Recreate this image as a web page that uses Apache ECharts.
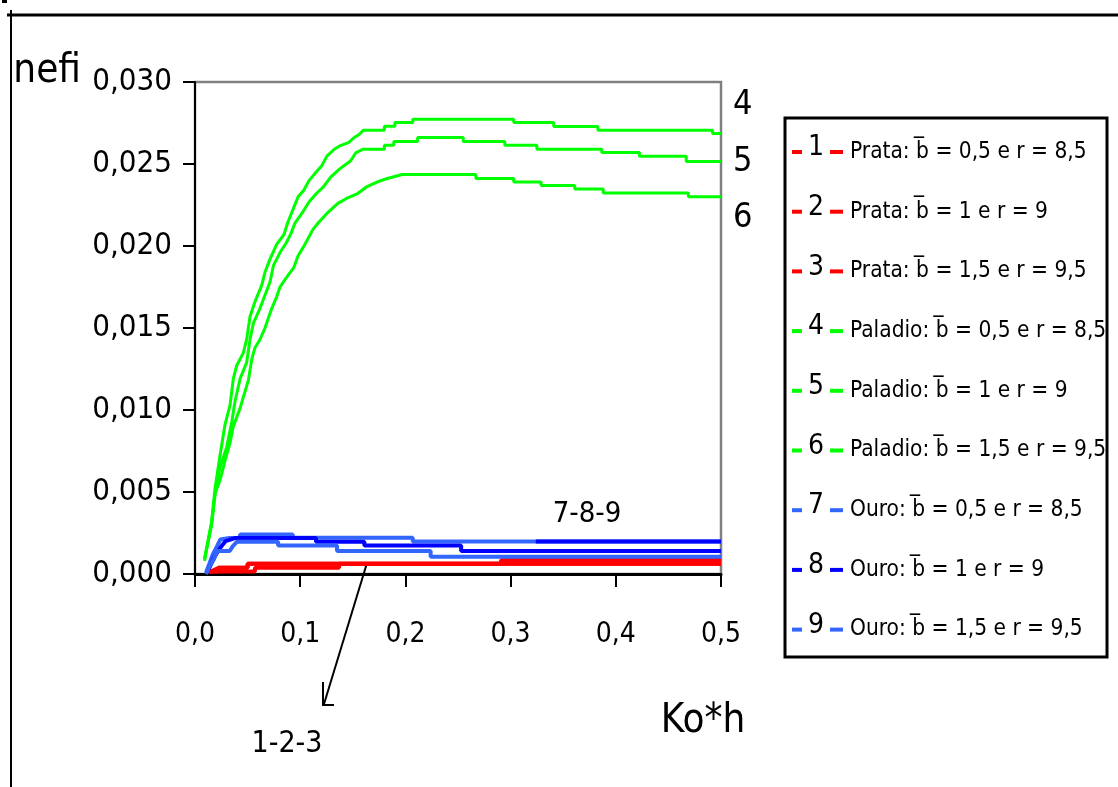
<!DOCTYPE html>
<html>
<head>
<meta charset="utf-8">
<script src="https://cdn.jsdelivr.net/npm/echarts@6/dist/echarts.min.js"></script>
<style>html,body{margin:0;padding:0;background:#fff;}#c{width:1118px;height:787px;}</style>
</head>
<body>
<div id="c"></div>
<script>
// ---- data ----
const xTicks = [0, 0.1, 0.2, 0.3, 0.4, 0.5];
const yTicks = [0, 0.005, 0.010, 0.015, 0.020, 0.025, 0.030];
const seriesNumbers = ['1','2','3','4','5','6','7','8','9'];
const seriesNames = [
  'Prata: b\u0305 = 0,5 e r = 8,5',
  'Prata: b\u0305 = 1 e r = 9',
  'Prata: b\u0305 = 1,5 e r = 9,5',
  'Paladio: b\u0305 = 0,5 e r = 8,5',
  'Paladio: b\u0305 = 1 e r = 9',
  'Paladio: b\u0305 = 1,5 e r = 9,5',
  'Ouro: b\u0305 = 0,5 e r = 8,5',
  'Ouro: b\u0305 = 1 e r = 9',
  'Ouro: b\u0305 = 1,5 e r = 9,5'
];
const prata1 = [[0.0133,0.0002],[0.016,0.00016],[0.057,0.00016],[0.057,0.00038],[0.137,0.00038],[0.137,0.00063],[0.5,0.00063]];
const prata2 = [[0.0133,0.0001],[0.016,0.00016],[0.0225,0.00016],[0.0225,0.00038],[0.05,0.00038],[0.05,0.00063],[0.5,0.00063]];
const prata3 = [[0.0133,0.0001],[0.0225,0.00038],[0.05,0.00038],[0.05,0.00063],[0.291,0.00063],[0.291,0.00085],[0.5,0.00085]];
const paladio1 = [[0.009,0.0009],[0.0158,0.0032],[0.019,0.0052],[0.0237,0.0072],[0.0285,0.0091],[0.0333,0.0103],[0.0364,0.0119],[0.0396,0.0127],[0.046,0.0135],[0.0491,0.0143],[0.0523,0.0157],[0.057,0.0166],[0.0634,0.0176],[0.0665,0.0184],[0.0713,0.0192],[0.0776,0.0201],[0.0846,0.0207],[0.088,0.0214],[0.093,0.0222],[0.098,0.023],[0.1034,0.0234],[0.1085,0.024],[0.1137,0.0244],[0.1205,0.0249],[0.1256,0.0255],[0.1324,0.0259],[0.1375,0.0261],[0.146,0.0263],[0.151,0.0266],[0.156,0.0268],[0.160,0.02706],[0.180,0.02706],[0.180,0.0273],[0.190,0.0273],[0.190,0.02753],[0.207,0.02753],[0.207,0.02773],[0.303,0.02773],[0.303,0.02753],[0.341,0.02753],[0.341,0.02728],[0.383,0.02728],[0.383,0.02706],[0.492,0.02706],[0.492,0.02686],[0.5,0.02686]];
const paladio2 = [[0.009,0.0009],[0.0158,0.003],[0.019,0.0048],[0.0237,0.0065],[0.03,0.0077],[0.035,0.0093],[0.038,0.0105],[0.0428,0.0119],[0.0491,0.0129],[0.0523,0.0143],[0.0555,0.0153],[0.0618,0.0162],[0.0665,0.017],[0.0713,0.0178],[0.0745,0.0188],[0.0808,0.0196],[0.0868,0.0202],[0.0915,0.0208],[0.095,0.0214],[0.1017,0.022],[0.1085,0.0227],[0.1154,0.0232],[0.122,0.0236],[0.129,0.0242],[0.1375,0.0247],[0.148,0.0252],[0.153,0.0257],[0.160,0.0259],[0.180,0.0259],[0.180,0.02615],[0.189,0.02615],[0.189,0.02637],[0.2116,0.02637],[0.2116,0.02661],[0.255,0.02661],[0.255,0.02637],[0.2945,0.02637],[0.2945,0.02615],[0.325,0.02615],[0.325,0.0259],[0.3867,0.0259],[0.3867,0.0257],[0.4225,0.0257],[0.4225,0.02548],[0.467,0.02548],[0.467,0.02515],[0.5,0.02515]];
const paladio3 = [[0.009,0.0008],[0.0158,0.0031],[0.019,0.0049],[0.0237,0.0057],[0.0285,0.0069],[0.0333,0.008],[0.0364,0.009],[0.0428,0.0101],[0.046,0.0108],[0.0507,0.0118],[0.054,0.0131],[0.057,0.0138],[0.0618,0.0143],[0.0665,0.015],[0.0697,0.0156],[0.073,0.0162],[0.0776,0.0169],[0.0808,0.0175],[0.0855,0.01795],[0.094,0.0187],[0.098,0.0194],[0.1027,0.0199],[0.107,0.0204],[0.112,0.021],[0.117,0.0214],[0.1256,0.022],[0.1358,0.0226],[0.144,0.0229],[0.1546,0.0232],[0.163,0.0236],[0.173,0.0239],[0.182,0.0241],[0.197,0.02436],[0.267,0.02436],[0.267,0.02412],[0.303,0.02412],[0.303,0.0239],[0.329,0.0239],[0.329,0.02369],[0.361,0.02369],[0.361,0.02347],[0.388,0.02347],[0.388,0.02323],[0.469,0.02323],[0.469,0.023],[0.5,0.023]];
const ouro1 = [[0.0105,0.0001],[0.0135,0.0006],[0.017,0.0012],[0.021,0.0017],[0.024,0.0021],[0.033,0.00219],[0.042,0.00219],[0.043,0.00241],[0.093,0.00241],[0.093,0.00221],[0.207,0.00221],[0.207,0.00198],[0.324,0.00198],[0.5,0.00198]];
const ouro2 = [[0.013,0.0003],[0.019,0.0011],[0.024,0.0016],[0.029,0.002],[0.038,0.00219],[0.115,0.00219],[0.115,0.00197],[0.161,0.00197],[0.161,0.00174],[0.253,0.00174],[0.253,0.0014],[0.5,0.0014]];
const ouro3 = [[0.0105,0.0],[0.014,0.0005],[0.018,0.0009],[0.021,0.0014],[0.033,0.0014],[0.036,0.0017],[0.04,0.00197],[0.079,0.00197],[0.079,0.00174],[0.135,0.00174],[0.135,0.0014],[0.224,0.0014],[0.224,0.00105],[0.5,0.00105]];
const seriesData = [prata1, prata2, prata3, paladio1, paladio2, paladio3, ouro1, ouro2, ouro3];
// in the picture the last part of series 7 is drawn in the darker blue
const ouro1DarkFrom = 0.324;

// ---- styles ----
const FONT = "'DejaVu Sans Condensed','Liberation Sans Narrow','Liberation Sans',sans-serif";
const colors = ['#FF0000','#FF0000','#FF0000','#00FF00','#00FF00','#00FF00','#3366FF','#0000FF','#3366FF'];
const widths = [4,4,4,3,3,3,4,4,4];
const dashKeys = ['dr','dr','dr','dg','dg','dg','dl','dd','dl'];
const endLabelOffsets = {3:[8,-28], 4:[8,1], 5:[8,21]};

const chart = echarts.init(document.getElementById('c'), null, {renderer:'canvas'});

const series = seriesData.map((d, i) => {
  const s = {
    name: seriesNames[i], type: 'line', data: d, showSymbol: false, symbol: 'none',
    lineStyle: {color: colors[i], width: widths[i]}, itemStyle: {color: colors[i]},
    z: 2 + i, silent: true
  };
  if (endLabelOffsets[i]) {
    s.endLabel = {show: true, formatter: seriesNumbers[i], fontFamily: FONT, fontSize: 34,
      color: '#000', distance: 4, offset: endLabelOffsets[i]};
  }
  return s;
});
series.push({
  name: seriesNames[6], type: 'line', data: ouro1.filter(p => p[0] >= ouro1DarkFrom),
  showSymbol: false, symbol: 'none', lineStyle: {color: '#0000FF', width: 4},
  itemStyle: {color: '#0000FF'}, z: 20, silent: true
});

const fmtComma = (v, dec) => v.toFixed(dec).replace('.', ',');

chart.setOption({
  animation: false,
  backgroundColor: '#fff',
  grid: {left: 195, top: 82, right: 397, bottom: 213, show: true, borderColor: '#808080', borderWidth: 2.5, backgroundColor: 'transparent'},
  xAxis: {
    type: 'value', min: xTicks[0], max: xTicks[xTicks.length-1], interval: 0.1,
    name: 'Ko*h', nameLocation: 'middle', nameGap: 148, nameMoveOverlap: false,
    nameTextStyle: {fontFamily: FONT, fontSize: 40, color: '#000', align: 'center', verticalAlign: 'middle', padding: [0,0,0,490]},
    axisLine: {show: true, lineStyle: {color: '#000', width: 3}},
    axisTick: {show: true, length: 13, lineStyle: {color: '#000', width: 2}},
    axisLabel: {fontFamily: FONT, fontSize: 28, color: '#000', margin: 47, formatter: v => fmtComma(v, 1)},
    splitLine: {show: false}
  },
  yAxis: {
    type: 'value', min: yTicks[0], max: yTicks[yTicks.length-1], interval: 0.005,
    name: 'nefi', nameLocation: 'end', nameGap: 10, nameMoveOverlap: false,
    nameTextStyle: {fontFamily: FONT, fontSize: 40, color: '#000', align: 'right', verticalAlign: 'middle', padding: [0,114,0,0]},
    axisLine: {show: true, lineStyle: {color: '#000', width: 2}},
    axisTick: {show: true, length: 12, lineStyle: {color: '#000', width: 2}},
    axisLabel: {fontFamily: FONT, fontSize: 31, color: '#000', margin: 23, formatter: v => fmtComma(v, 3)},
    splitLine: {show: false}
  },
  legend: {
    orient: 'vertical', left: 792, top: 134, padding: 0, itemGap: 30.2,
    icon: 'rect', itemWidth: 10, itemHeight: 4, selectedMode: false,
    data: seriesNames.map((n, i) => ({name: n, itemStyle: {color: colors[i]}})),
    formatter: name => {
      const i = seriesNames.indexOf(name);
      return '{n|' + seriesNumbers[i] + '}{s5| }{' + dashKeys[i] + '| }{s7| }{t|' + name + '}';
    },
    textStyle: {
      fontFamily: FONT, color: '#000',
      rich: {
        n: {fontFamily: FONT, fontSize: 28, width: 18, align: 'center', padding: [0,0,8,0], color: '#000'},
        s5: {width: 5}, s7: {width: 7},
        dr: {width: 13, height: 4, backgroundColor: '#FF0000'},
        dg: {width: 13, height: 4, backgroundColor: '#00FF00'},
        dl: {width: 13, height: 4, backgroundColor: '#3366FF'},
        dd: {width: 13, height: 4, backgroundColor: '#0000FF'},
        t: {fontFamily: FONT, fontSize: 22.5, lineHeight: 36, color: '#000'}
      }
    }
  },
  graphic: [
    {type: 'line', shape: {x1: 7, y1: 15, x2: 1118, y2: 15}, style: {stroke: '#000', lineWidth: 3}},
    {type: 'line', shape: {x1: 11, y1: 10, x2: 11, y2: 787}, style: {stroke: '#000', lineWidth: 2}},
    {type: 'rect', shape: {x: 2, y: 0, width: 5, height: 3}, style: {fill: '#000'}},
    {type: 'rect', shape: {x: 785, y: 118, width: 322, height: 539}, style: {fill: 'none', stroke: '#000', lineWidth: 3}},
    {type: 'polyline', shape: {points: [[367,563],[324,704]]}, style: {stroke: '#000', lineWidth: 2, fill: 'none'}},
    {type: 'polyline', shape: {points: [[323,682],[323,705],[334,705]]}, style: {stroke: '#000', lineWidth: 2, fill: 'none'}},
    {type: 'text', x: 287, y: 744, style: {text: '1-2-3', fontFamily: FONT, fontSize: 30, fill: '#000', align: 'center', verticalAlign: 'middle'}},
    {type: 'text', x: 587, y: 514, style: {text: '7-8-9', fontFamily: FONT, fontSize: 29, fill: '#000', align: 'center', verticalAlign: 'middle'}}
  ],
  series: series
});
</script>
</body>
</html>
